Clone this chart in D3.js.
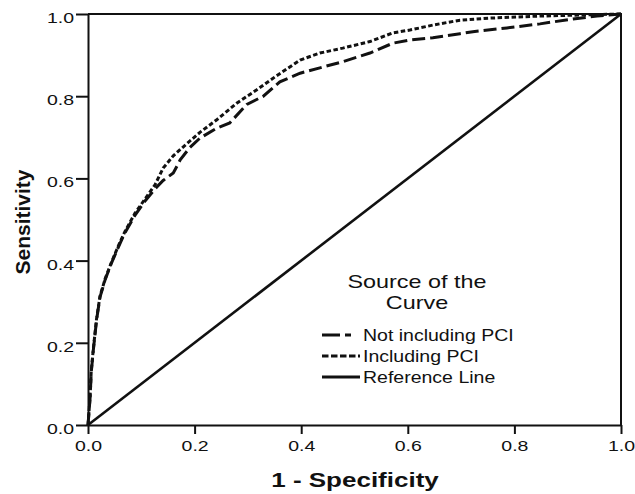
<!DOCTYPE html>
<html lang="en">
  <head>
    <meta charset="utf-8" />
    <title>ROC curves</title>
    <script src="https://cdnjs.cloudflare.com/ajax/libs/d3/7.8.5/d3.min.js"></script>
    <style>
      body {
        margin: 0;
        background: #fff;
      }
      svg text {
        font-family: "Liberation Sans", Arial, sans-serif;
        fill: #111;
      }
      .axis path,
      .axis line {
        stroke: #111;
        stroke-width: 2px;
      }
    </style>
  </head>
  <body>
    <svg id="chart" width="635" height="494"></svg>
    <script>
      // ROC points: 1 - specificity (fpr) and sensitivity (tpr)
      const fprNotPCI = [0, 0.004, 0.006, 0.01, 0.016, 0.0225, 0.032, 0.044, 0.057, 0.069, 0.088, 0.107, 0.126, 0.141, 0.16, 0.173, 0.191, 0.21, 0.241, 0.266, 0.298, 0.329, 0.36, 0.398, 0.435, 0.478, 0.529, 0.572, 0.604, 0.647, 0.698, 0.722, 0.786, 0.848, 0.91, 0.955, 1];
      const tprNotPCI = [0, 0.068, 0.127, 0.182, 0.255, 0.311, 0.353, 0.394, 0.433, 0.467, 0.51, 0.545, 0.575, 0.595, 0.613, 0.645, 0.675, 0.698, 0.722, 0.735, 0.78, 0.8, 0.835, 0.856, 0.869, 0.884, 0.905, 0.929, 0.937, 0.942, 0.952, 0.957, 0.966, 0.976, 0.988, 0.995, 1];
      const fprPCI = [0, 0.004, 0.006, 0.01, 0.016, 0.0225, 0.032, 0.044, 0.057, 0.069, 0.088, 0.107, 0.126, 0.141, 0.16, 0.185, 0.21, 0.241, 0.279, 0.316, 0.354, 0.398, 0.435, 0.478, 0.529, 0.572, 0.604, 0.647, 0.698, 0.754, 0.848, 0.94, 1];
      const tprPCI = [0, 0.07, 0.13, 0.185, 0.258, 0.313, 0.355, 0.396, 0.436, 0.47, 0.515, 0.55, 0.585, 0.625, 0.655, 0.684, 0.712, 0.742, 0.783, 0.815, 0.85, 0.888, 0.905, 0.917, 0.933, 0.954, 0.961, 0.973, 0.985, 0.99, 0.995, 0.998, 1];
      const refLine = [0, 1];
      const ticks = [0, 0.2, 0.4, 0.6, 0.8, 1.0];

      const legendItems = [
        { label: "Not including PCI", dash: "18,5,6,100", width: 3 },
        { label: "Including PCI", dash: "6.5,2.5", width: 3 },
        { label: "Reference Line", dash: null, width: 3 },
      ];

      // text in the source is drawn wide
      const stretch = 1.3;

      const svg = d3.select("#chart");
      const margin = { top: 14, right: 14, bottom: 69, left: 88 };
      const w = 635 - margin.left - margin.right;
      const h = 494 - margin.top - margin.bottom;

      const x = d3.scaleLinear().domain([0, 1]).range([0, w]);
      const y = d3.scaleLinear().domain([0, 1]).range([h, 0]);

      const g = svg
        .append("g")
        .attr("transform", `translate(${margin.left},${margin.top})`);

      // frame top / right
      g.append("path")
        .attr("d", `M0,0H${w}V${h}`)
        .attr("fill", "none")
        .attr("stroke", "#111")
        .attr("stroke-width", 2);

      // axes
      g.append("g")
        .attr("class", "axis")
        .attr("transform", `translate(0,${h})`)
        .call(
          d3.axisBottom(x).tickValues(ticks).tickFormat(d3.format(".1f")).tickSize(9).tickSizeOuter(0).tickPadding(6)
        )
        .call((a) =>
          a.selectAll("text").style("font-size", "15px").attr("transform", `scale(${stretch},1)`)
        );

      g.append("g")
        .attr("class", "axis")
        .call(
          d3.axisLeft(y).tickValues(ticks).tickFormat(d3.format(".1f")).tickSize(12).tickSizeOuter(0)
        )
        .call((a) =>
          a
            .selectAll("text")
            .style("font-size", "15px")
            .attr("x", 0)
            .attr("dy", "0.56em")
            .attr("transform", `translate(-14,0) scale(${stretch},1)`)
        );

      const line = d3
        .line()
        .x((d) => x(d[0]))
        .y((d) => y(d[1]));

      // reference line
      g.append("path")
        .attr("d", line(refLine.map((v) => [v, v])))
        .attr("fill", "none")
        .attr("stroke", "#111")
        .attr("stroke-width", 2.6);

      // not including PCI (long dashes)
      g.append("path")
        .attr("d", line(fprNotPCI.map((v, i) => [v, tprNotPCI[i]])))
        .attr("fill", "none")
        .attr("stroke", "#111")
        .attr("stroke-width", 3)
        .attr("stroke-dasharray", "13,5");

      // including PCI (short dashes)
      g.append("path")
        .attr("d", line(fprPCI.map((v, i) => [v, tprPCI[i]])))
        .attr("fill", "none")
        .attr("stroke", "#111")
        .attr("stroke-width", 3)
        .attr("stroke-dasharray", "4.5,2.5");

      // axis titles
      svg
        .append("text")
        .attr("transform", `translate(355,487) scale(${stretch},1)`)
        .attr("text-anchor", "middle")
        .style("font-size", "20px")
        .style("font-weight", "bold")
        .text("1 - Specificity");

      svg
        .append("text")
        .attr("transform", "translate(30,222) rotate(-90)")
        .attr("text-anchor", "middle")
        .style("font-size", "21px")
        .style("font-weight", "bold")
        .text("Sensitivity");

      // legend
      const lg = svg.append("g").attr("transform", "translate(322,0)");
      lg.append("text")
        .attr("transform", `translate(95,288) scale(${stretch},1)`)
        .attr("text-anchor", "middle")
        .style("font-size", "18px")
        .text("Source of the");
      lg.append("text")
        .attr("transform", `translate(95,309) scale(${stretch},1)`)
        .attr("text-anchor", "middle")
        .style("font-size", "18px")
        .text("Curve");

      legendItems.forEach((item, i) => {
        const yy = 335 + i * 21;
        lg.append("line")
          .attr("x1", 0)
          .attr("x2", 38)
          .attr("y1", yy)
          .attr("y2", yy)
          .attr("stroke", "#111")
          .attr("stroke-width", item.width)
          .attr("stroke-dasharray", item.dash);
        lg.append("text")
          .attr("transform", `translate(41,${yy + 6}) scale(1.22,1)`)
          .style("font-size", "16px")
          .text(item.label);
      });
    </script>
  </body>
</html>
